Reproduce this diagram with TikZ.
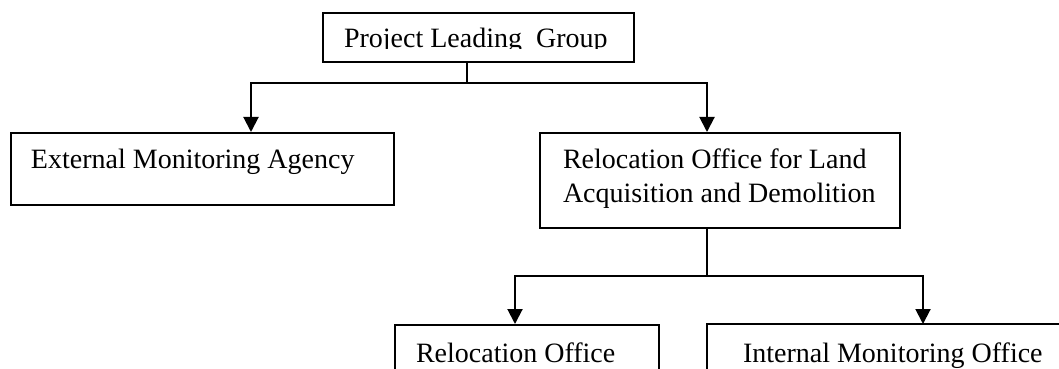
\documentclass[tikz,border=0pt]{standalone}
\usepackage{fontspec}
\setmainfont{Liberation Serif}
\usetikzlibrary{arrows.meta,positioning}

\begin{document}
\begin{tikzpicture}[x=0.5pt,y=-0.5pt,line width=1pt,
    box/.style={draw,rectangle,inner sep=0pt,anchor=north west},
    txt/.style={inner sep=0pt,anchor=base west,align=left,font=\fontsize{14}{17}\selectfont},
    arr/.style={-{Triangle[length=7.5pt,width=7.5pt]}}]
    \useasboundingbox (0,0) rectangle (1059,369);
    \clip (0,0) rectangle (1059,369);
    \node[box,minimum width=155.5pt,minimum height=24.5pt] (plg) at (322,12) {};
    \node[box,minimum width=191.5pt,minimum height=36pt] (ema) at (10,132) {};
    \node[box,minimum width=180pt,minimum height=47.5pt] (rold) at (539,132) {};
    \node[box,minimum width=132pt,minimum height=40pt] (ro) at (394,324) {};
    \node[box,draw=none,minimum width=200pt,minimum height=40pt] (imo) at (707,324) {};
    \draw (imo.south west) -- (imo.north west) -- (imo.north east);
    \begin{scope}
        \clip (322,12) rectangle (633,49);
        \node[txt] (plgtext) at (343,48) {Project Leading\ \ Group};
    \end{scope}
    \node[txt] (ematext) at (30,168) {External Monitoring Agency};
    \node[txt] (roldtext) at (562,202) {Relocation Office for Land\\Acquisition and Demolition};
    \node[txt] (rotext) at (415,362) {Relocation Office};
    \node[txt] (imotext) at (742,362) {Internal Monitoring Office};
    \coordinate (t1) at (467,83);
    \coordinate (t1l) at (251,83);
    \coordinate (t1r) at (707,83);
    \coordinate (t2) at (707,276);
    \coordinate (t2l) at (515,276);
    \coordinate (t2r) at (923,276);
    \draw (plg.south -| t1) -- (t1);
    \draw[arr] (t1) -| (t1l |- ema.north);
    \draw[arr] (t1) -| (t1r |- rold.north);
    \draw (rold.south -| t2) -- (t2);
    \draw[arr] (t2) -| (t2l |- ro.north);
    \draw[arr] (t2) -| (t2r |- imo.north);
\end{tikzpicture}
\end{document}
